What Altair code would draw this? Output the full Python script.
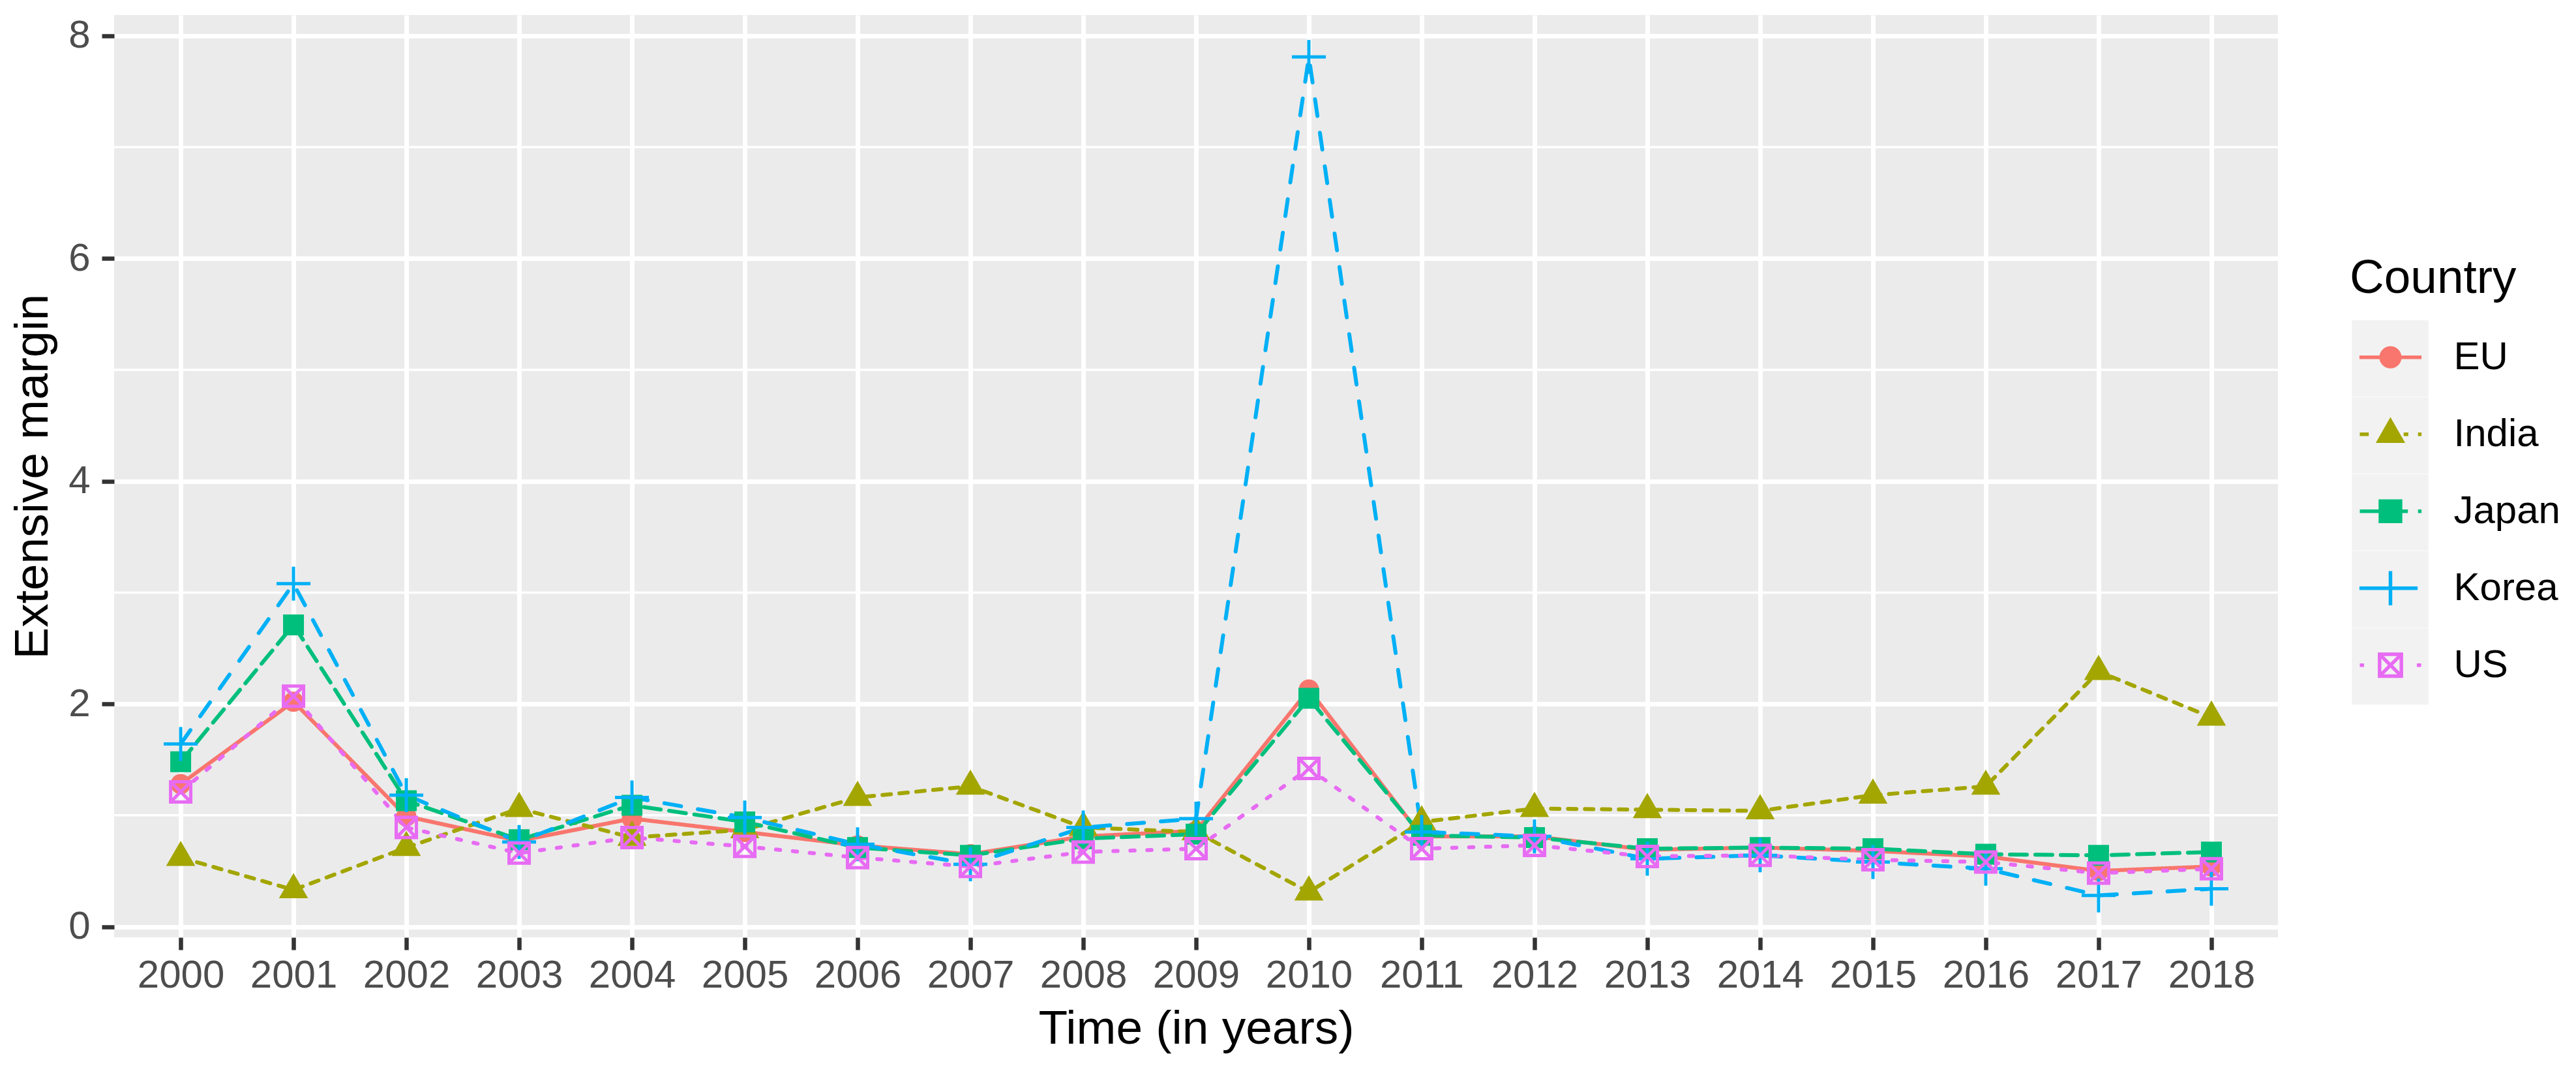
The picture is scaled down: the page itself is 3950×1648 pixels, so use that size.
import altair as alt
import pandas as pd

FONT = "Liberation Sans"

years = list(range(2000, 2019))
countries = ["EU", "India", "Japan", "Korea", "US"]

eu = [1.28, 2.02, 0.99, 0.77, 0.97, 0.85, 0.73, 0.65, 0.81, 0.86, 2.13, 0.81, 0.81, 0.69, 0.71, 0.68, 0.63, 0.50, 0.54]
india = [0.62, 0.33, 0.71, 1.06, 0.80, 0.87, 1.16, 1.26, 0.89, 0.85, 0.31, 0.94, 1.06, 1.05, 1.04, 1.18, 1.26, 2.29, 1.88]
japan = [1.48, 2.71, 1.13, 0.78, 1.09, 0.94, 0.71, 0.64, 0.79, 0.83, 2.05, 0.82, 0.80, 0.70, 0.71, 0.70, 0.65, 0.64, 0.67]
korea = [1.64, 3.08, 1.18, 0.76, 1.16, 0.98, 0.74, 0.56, 0.89, 0.97, 7.81, 0.85, 0.81, 0.61, 0.64, 0.58, 0.52, 0.28, 0.34]
us = [1.21, 2.07, 0.89, 0.66, 0.80, 0.72, 0.62, 0.54, 0.67, 0.70, 1.42, 0.70, 0.73, 0.63, 0.64, 0.60, 0.58, 0.48, 0.52]

y_major = [0, 2, 4, 6, 8]
y_minor = [1, 3, 5, 7]

colors = ["#F8766D", "#A3A500", "#00BF7D", "#00B0F6", "#E76BF3"]
fills = ["#F8766D", "#A3A500", "#00BF7D", "transparent", "transparent"]
dashes = [[1, 0], [13, 13], [26, 13], [26, 26], [6.5, 19.5]]

# marker shapes for the plotted points (unit box, scaled by sqrt(size)/2)
point_paths = [
    "M-0.65,0A0.65,0.65 0 1,0 0.65,0A0.65,0.65 0 1,0 -0.65,0Z",
    "M0,-1.04L-0.9,0.52L0.9,0.52Z",
    "M-0.675,-0.675H0.675V0.675H-0.675Z",
    "M-1.3,0H1.3M0,-1.3V1.3",
    "M-0.775,-0.775H0.775V0.775H-0.775ZM-0.775,-0.775L0.775,0.775M-0.775,0.775L0.775,-0.775",
]

legend_paths = [
    "M-0.8,0H0.8M-0.24,0A0.24,0.24 0 1,0 0.24,0A0.24,0.24 0 1,0 -0.24,0Z",
    "M-0.79,0H-0.56M0.34,0H0.46M0.71,0H0.8M0,-0.35L-0.3,0.175L0.3,0.175Z",
    "M-0.79,0H-0.3M0.26,0H0.45M0.71,0H0.8M-0.26,-0.26H0.26V0.26H-0.26Z",
    "M-0.8,0H0.7M0,-0.44V0.44",
    "M-0.79,0H-0.68M0.68,0H0.79M-0.28,-0.28H0.28V0.28H-0.28ZM-0.28,-0.28L0.28,0.28M-0.28,0.28L0.28,-0.28",
]

series = [eu, india, japan, korea, us]
rows = []
for c, vals in zip(countries, series):
    for yr, v in zip(years, vals):
        rows.append({"Year": yr, "Country": c, "Value": v})
df = pd.DataFrame(rows)

allv = [v for s in series for v in s]
lo, hi = min(allv), max(allv)
pad = 0.05 * (hi - lo)
ydom = [lo - pad, hi + pad]

W, H = 3318, 1414

x_axis = alt.Axis(
    title="Time (in years)", labelAngle=0, labelFont=FONT, labelFontSize=60,
    labelColor="#4D4D4D", labelPadding=10, tickColor="#333333", tickWidth=6.5,
    tickSize=19, domain=False, grid=True, gridColor="white", gridWidth=7,
    titleFont=FONT, titleFontSize=73, titleFontWeight="normal", titleColor="black",
    titleX=W / 2, titleY=162, titleBaseline="alphabetic", titleAlign="center",
)
y_axis = alt.Axis(
    title="Extensive margin", values=y_major, labelFont=FONT, labelFontSize=60,
    labelColor="#4D4D4D", labelPadding=18, tickColor="#333333", tickWidth=6.5,
    tickSize=19, domain=False, grid=True, gridColor="white", gridWidth=7,
    titleFont=FONT, titleFontSize=73, titleFontWeight="normal", titleColor="black",
    titleAngle=270, titleX=-103, titleY=H / 2, titleBaseline="alphabetic",
    titleAlign="center",
)

x_enc = alt.X("Year:O", scale=alt.Scale(type="point", padding=0.59), axis=x_axis)
y_scale = alt.Scale(domain=ydom, nice=False, zero=False)
y_enc = alt.Y("Value:Q", scale=y_scale, axis=y_axis)

base = alt.Chart(df)

ROW = 117.5

# decoy legend: grey key backgrounds
keys_bg = base.transform_filter("false").mark_square(
    filled=True, color="#F2F2F2", opacity=1
).encode(
    x=x_enc, y=y_enc,
    opacity=alt.Opacity(
        "Country:N",
        scale=alt.Scale(type="ordinal", domain=countries, range=[1, 1, 1, 1, 1]),
        legend=alt.Legend(
            title=None, orient="none", legendX=3431, legendY=468,
            symbolType="square", symbolSize=ROW * ROW, symbolFillColor="#F2F2F2",
            symbolStrokeWidth=0, labelOpacity=0, rowPadding=0, padding=0,
            clipHeight=ROW,
        ),
    ),
)

minor = alt.Chart(pd.DataFrame({"Value": y_minor})).mark_rule(
    color="white", strokeWidth=3.5
).encode(y=y_enc)

lines = base.mark_line(strokeWidth=6, strokeCap="round", strokeJoin="round").encode(
    x=x_enc, y=y_enc,
    color=alt.Color("Country:N", scale=alt.Scale(domain=countries, range=colors), legend=None),
    strokeDash=alt.StrokeDash("Country:N", scale=alt.Scale(domain=countries, range=dashes), legend=None),
)

points = base.mark_point(filled=True, opacity=1, size=1600, strokeWidth=5).encode(
    x=x_enc, y=y_enc,
    shape=alt.Shape("Country:N", scale=alt.Scale(domain=countries, range=point_paths), legend=None),
    fill=alt.Fill("Country:N", scale=alt.Scale(domain=countries, range=fills), legend=None),
    stroke=alt.Stroke("Country:N", scale=alt.Scale(domain=countries, range=colors), legend=None),
)

leg = alt.Legend(
    title="Country", orient="none", legendX=3428, legendY=368,
    titleFont=FONT, titleFontSize=73, titleFontWeight="normal", titleColor="black",
    titlePadding=25, titleLimit=1000, labelFont=FONT, labelFontSize=60, labelColor="black",
    labelLimit=1000, labelOffset=34.5, symbolSize=14161, symbolStrokeWidth=5.5,
    symbolOpacity=1, rowPadding=0, padding=0, clipHeight=ROW,
)

legend_layer = base.transform_filter("false").mark_point(filled=True, opacity=1, strokeWidth=5).encode(
    x=x_enc, y=y_enc,
    shape=alt.Shape("Country:N", scale=alt.Scale(domain=countries, range=legend_paths), legend=leg),
    fill=alt.Fill("Country:N", scale=alt.Scale(domain=countries, range=fills), legend=leg),
    stroke=alt.Stroke("Country:N", scale=alt.Scale(domain=countries, range=colors), legend=leg),
)

chart = alt.layer(keys_bg, minor, lines, points, legend_layer).resolve_scale(
    shape="independent", fill="independent", stroke="independent"
).properties(
    width=W, height=H,
    autosize=alt.AutoSizeParams(type="none"),
    padding={"left": 167, "top": 15, "right": 440, "bottom": 190},
).configure_view(fill="#EBEBEB", strokeWidth=0)

chart.save("out.html", embed_options={"renderer": "svg", "actions": False})
